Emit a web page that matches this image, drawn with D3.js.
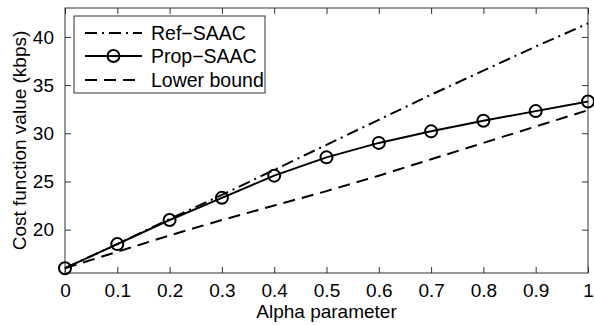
<!DOCTYPE html>
<html>
<head>
<meta charset="utf-8">
<script src="https://cdn.jsdelivr.net/npm/d3@7"></script>
<style>
  body { margin: 0; background: #fff; }
  text { font-family: "Liberation Sans", Arial, sans-serif; }
</style>
</head>
<body>
<div id="chartRegion"></div>
<script>
/* values */
var alpha = [0, 0.1, 0.2, 0.3, 0.4, 0.5, 0.6, 0.7, 0.8, 0.9, 1.0];
var refSAAC = [16.0, 18.5, 21.1, 23.6, 26.2, 28.8, 31.4, 34.0, 36.5, 39.0, 41.4];
var propSAAC = [16.0, 18.5, 21.0, 23.3, 25.6, 27.5, 29.0, 30.2, 31.3, 32.3, 33.3];
var lowerBound = [16.0, 17.7, 19.4, 21.0, 22.5, 24.0, 25.6, 27.3, 29.0, 30.7, 32.4];
var xTicks = [0, 0.1, 0.2, 0.3, 0.4, 0.5, 0.6, 0.7, 0.8, 0.9, 1];
var yTicks = [20, 25, 30, 35, 40];
var seriesNames = ["Ref\u2212SAAC", "Prop\u2212SAAC", "Lower bound"];

var W = 594, H = 325;
var margin = {left: 65, right: 6, top: 8, bottom: 52};
var fontSize = 19;

var svg = d3.select("#chartRegion").append("svg").attr("width", W).attr("height", H);

var x = d3.scaleLinear().domain([0, 1]).range([margin.left, W - margin.right]);
var y = d3.scaleLinear().domain([15.5, 43]).range([H - margin.bottom, margin.top]);

var tickLen = 6;
function styleAxis(g) {
  g.select(".domain").remove();
  g.selectAll(".tick line").attr("stroke", "#333").attr("stroke-width", 1);
  g.selectAll(".tick text").attr("font-size", fontSize).attr("fill", "#000")
    .attr("font-family", "Liberation Sans, Arial, sans-serif");
}

// bottom axis (ticks pointing inward)
svg.append("g").attr("transform", "translate(0," + y.range()[0] + ")")
  .call(d3.axisBottom(x).tickValues(xTicks).tickFormat(d3.format("")).tickSizeInner(-tickLen).tickPadding(11))
  .call(styleAxis);
// top axis ticks only
svg.append("g").attr("transform", "translate(0," + y.range()[1] + ")")
  .call(d3.axisTop(x).tickValues(xTicks).tickFormat("").tickSizeInner(-tickLen))
  .call(styleAxis);
// left axis
svg.append("g").attr("transform", "translate(" + x.range()[0] + ",0)")
  .call(d3.axisLeft(y).tickValues(yTicks).tickSizeInner(-tickLen).tickPadding(11))
  .call(styleAxis);
// right axis ticks only
svg.append("g").attr("transform", "translate(" + x.range()[1] + ",0)")
  .call(d3.axisRight(y).tickValues(yTicks).tickFormat("").tickSizeInner(-tickLen))
  .call(styleAxis);

// box
svg.append("rect")
  .attr("x", x.range()[0]).attr("y", y.range()[1])
  .attr("width", x.range()[1] - x.range()[0]).attr("height", y.range()[0] - y.range()[1])
  .attr("fill", "none").attr("stroke", "#333").attr("stroke-width", 1);

var line = d3.line().x(function(d) { return x(d[0]); }).y(function(d) { return y(d[1]); });
function pairs(vals) { return alpha.map(function(a, i) { return [a, vals[i]]; }); }

var dashes = ["12,5,2,5", null, "12,7"];
var allSeries = [refSAAC, propSAAC, lowerBound];

allSeries.forEach(function(vals, i) {
  svg.append("path").datum(pairs(vals))
    .attr("d", line).attr("fill", "none").attr("stroke", "#000")
    .attr("stroke-width", 2).attr("stroke-dasharray", dashes[i]);
});

svg.selectAll("circle.mk").data(pairs(propSAAC)).enter().append("circle")
  .attr("class", "mk")
  .attr("cx", function(d) { return x(d[0]); })
  .attr("cy", function(d) { return y(d[1]); })
  .attr("r", 6).attr("fill", "none").attr("stroke", "#000").attr("stroke-width", 2);

// legend
var lg = svg.append("g");
lg.append("rect").attr("x", 74).attr("y", 16).attr("width", 191).attr("height", 77)
  .attr("fill", "#fff").attr("stroke", "#333").attr("stroke-width", 1);
var rowY = [33, 56, 80];
seriesNames.forEach(function(name, i) {
  lg.append("line").attr("x1", 85).attr("x2", 142).attr("y1", rowY[i]).attr("y2", rowY[i])
    .attr("stroke", "#000").attr("stroke-width", 2).attr("stroke-dasharray", dashes[i]);
  if (i === 1) {
    lg.append("circle").attr("cx", 113.5).attr("cy", rowY[i]).attr("r", 6)
      .attr("fill", "none").attr("stroke", "#000").attr("stroke-width", 2);
  }
  lg.append("text").attr("x", 151).attr("y", rowY[i]).attr("dy", "0.36em")
    .attr("font-size", fontSize + 0.5).text(name);
});

// axis labels
svg.append("text").attr("x", (x.range()[0] + x.range()[1]) / 2).attr("y", 318)
  .attr("text-anchor", "middle").attr("font-size", fontSize).text("Alpha parameter");
svg.append("text")
  .attr("transform", "translate(26," + ((y.range()[0] + y.range()[1]) / 2) + ") rotate(-90)")
  .attr("text-anchor", "middle").attr("font-size", fontSize).text("Cost function value (kbps)");
</script>
</body>
</html>
